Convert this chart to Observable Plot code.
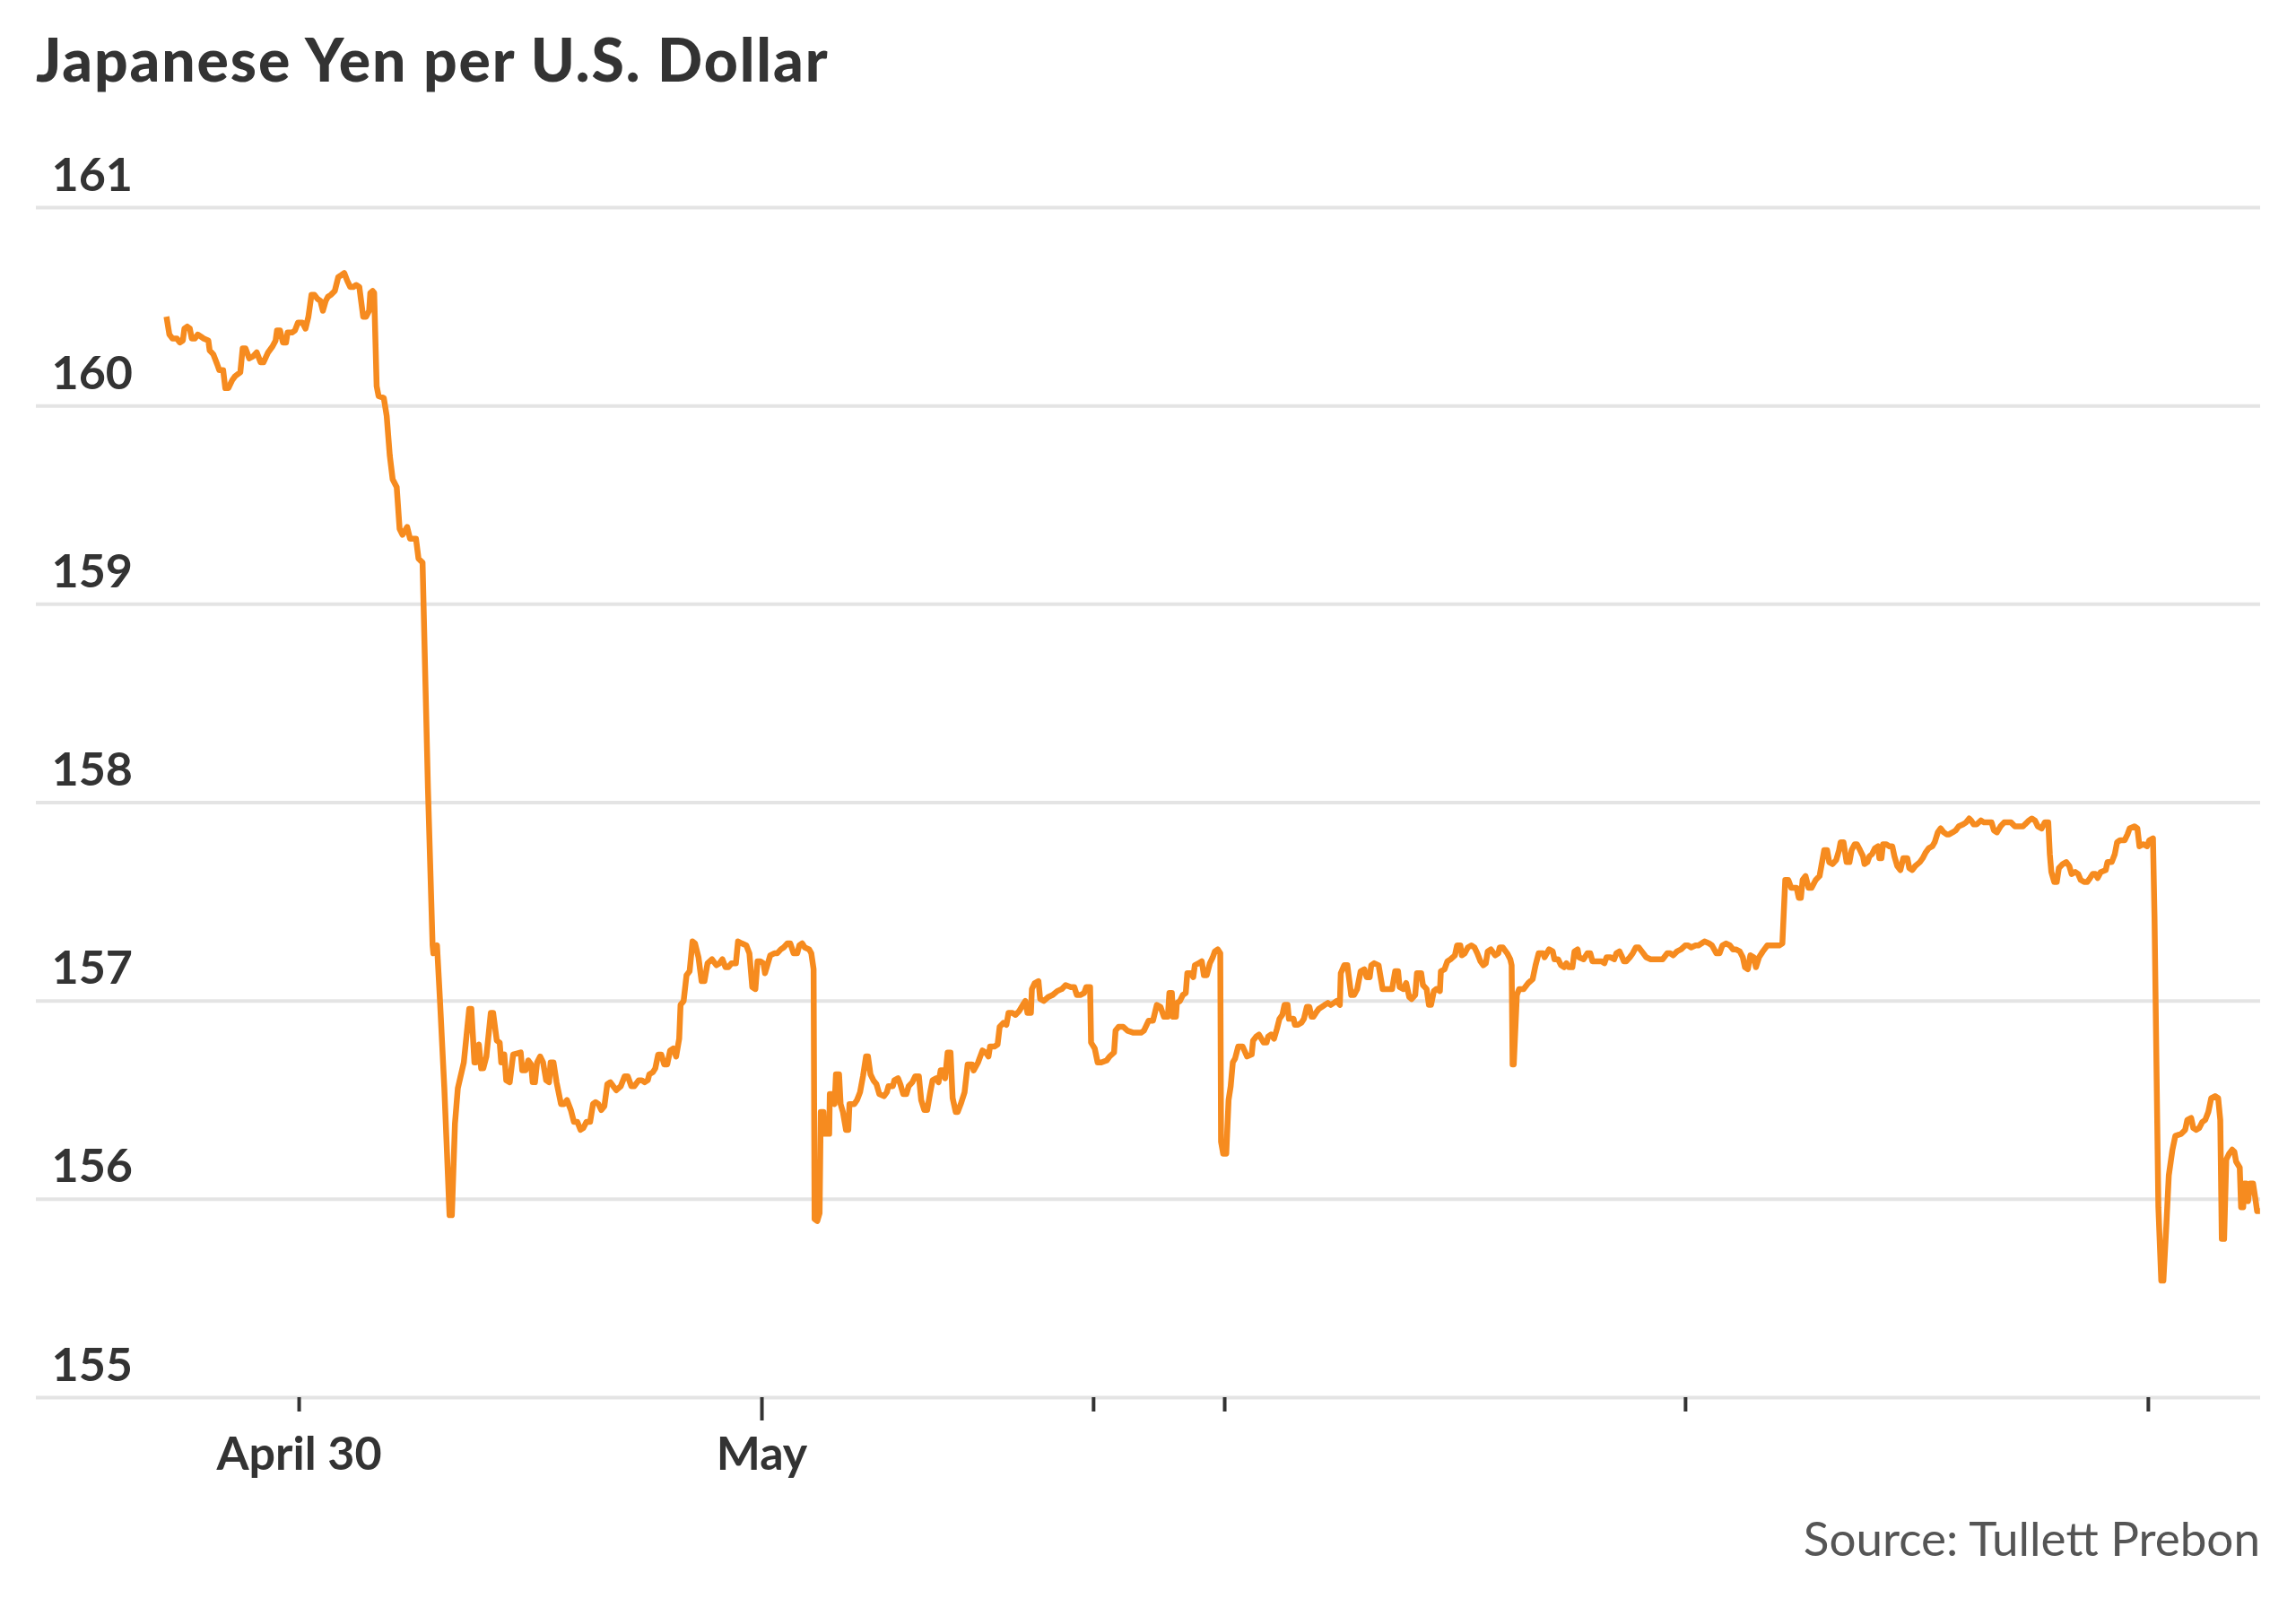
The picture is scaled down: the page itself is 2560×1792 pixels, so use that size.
<!DOCTYPE html>
<html>
<head>
<meta charset="utf-8">
<script src="https://cdn.jsdelivr.net/npm/d3@7"></script>
<script src="https://cdn.jsdelivr.net/npm/@observablehq/plot@0.6"></script>
<style>
  html, body { margin: 0; padding: 0; background: #ffffff; }
  #page { position: relative; width: 2560px; height: 1792px; overflow: hidden; background: #ffffff; font-family: Lato, "Noto Sans", sans-serif; }
  #title { position: absolute; left: 40px; top: 33px; font: 900 66px/66px Lato, sans-serif; letter-spacing: 1.9px; color: #333333; white-space: nowrap; }
  #chart { position: absolute; left: 0; top: 150px; }
  #source { position: absolute; right: 40px; top: 1688px; font: 400 53px/53px Lato, sans-serif; color: #555555; white-space: nowrap; }
</style>
</head>
<body>
<div id="page">
  <div id="title">Japanese Yen per U.S. Dollar</div>
  <div id="chart"></div>
  <div id="source">Source: Tullett Prebon</div>
</div>
<script>
// Hours since April 30, 00:00
const hours = [
  // segment 1
  -6.88,-6.73,-6.57,-6.34,-6.19,-6.03,-5.95,-5.80,-5.67,-5.57,
  -5.41,-5.26,-5.10,-4.95,-4.71,-4.64,-4.45,-4.25,-4.14,-3.94,
  -3.83,-3.67,-3.47,-3.32,-3.05,-2.93,-2.78,-2.59,-2.39,-2.20,
  -2.00,-1.85,-1.61,-1.38,-1.22,-1.15,-0.99,-0.84,-0.68,-0.60,
  -0.37,-0.22,-0.06,0.17,0.33,0.48,0.64,0.79,0.95,1.10,
  1.23,1.38,1.49,1.64,1.85,2.03,2.19,2.34,2.50,2.65,
  2.81,2.96,3.12,3.24,3.32,3.47,3.63,3.69,3.81,3.89,
  4.02,4.12,4.39,4.54,4.70,4.85,5.06,5.21,5.36,5.60,
  5.75,6.06,6.19,6.40,
  // segment 2
  6.68,6.92,6.96,7.15,7.30,7.53,7.80,7.92,8.08,8.23,
  8.54,8.82,8.93,9.09,9.16,9.32,9.44,9.55,9.71,9.94,
  10.06,10.25,10.40,10.48,10.64,10.74,10.92,11.10,11.49,11.57,
  11.75,11.88,12.03,12.11,12.23,12.34,12.50,12.65,12.81,12.96,
  13.04,13.19,13.35,13.58,13.74,13.89,14.09,14.25,14.43,14.59,
  14.74,14.90,15.09,15.24,15.37,15.52,15.67,15.83,15.98,16.14,
  16.29,16.45,16.68,16.88,17.04,17.23,17.38,17.61,17.77,17.92,
  18.08,18.16,18.34,18.47,18.62,18.78,18.93,19.09,19.24,19.40,
  19.55,19.71,19.78,19.94,20.09,20.25,20.40,20.53,20.71,20.87,
  21.02,21.18,21.41,21.64,21.80,21.95,22.11,22.26,22.42,22.65,
  22.76,22.96,23.19,23.35,23.50,
  // segment 3
  23.66,23.77,23.92,24.08,24.16,24.28,24.43,24.64,24.79,24.98,
  25.13,25.32,25.47,25.64,25.83,25.94,26.09,26.22,26.45,26.56,
  26.68,26.73,26.87,26.99,27.05,27.19,27.24,27.49,27.52,27.69,
  27.77,27.84,28.00,28.08,28.20,28.36,28.48,28.54,28.79,28.93,
  29.09,29.24,29.40,29.50,29.63,29.78,29.94,30.09,30.33,30.48,
  30.56,30.79,30.87,31.06,31.18,31.33,31.49,31.61,31.80,31.95,
  32.14,32.26,32.42,32.57,32.73,32.85,33.04,33.16,33.27,33.43,
  33.50,33.63,33.78,33.89,34.05,34.15,34.31,34.51,34.67,34.90,
  34.98,35.21,35.44,35.60,35.75,35.83,36.06,36.22,36.33,36.53,
  36.68,36.79,36.99,37.15,37.35,37.53,37.66,37.77,37.95,38.00,
  38.15,38.34,38.43,38.62,38.85,39.08,39.32,39.55,39.75,40.02,
  40.20,40.33,40.51,40.71,40.82,41.02,41.07,41.26,41.41,41.60,
  41.88,42.03,42.26,42.34,42.50,42.73,42.96,43.27,43.66,43.81,
  44.05,44.28,44.48,44.67,44.85,
  // segment 4
  45.05,45.13,45.26,45.32,45.47,45.52,45.68,45.83,45.98,46.06,
  46.22,46.37,46.45,46.65,46.81,46.92,47.07,47.23,47.38,47.49,
  47.64,47.77,47.81,47.92,48.08,48.20,48.31,48.42,48.54,48.70,
  48.93,49.16,49.40,49.47,49.63,49.78,50.02,50.17,50.25,50.40,
  50.56,50.71,50.84,50.99,51.10,51.26,51.33,51.57,51.64,51.80,
  51.98,52.11,52.26,52.39,52.50,52.60,52.73,52.88,53.04,53.19,
  53.35,53.50,53.66,53.81,53.97,54.02,54.20,54.36,54.56,54.71,
  54.87,55.05,55.24,55.36,55.52,55.60,55.75,55.98,56.19,56.45,
  56.68,56.84,56.99,57.07,57.26,57.41,57.57,57.69,57.88,57.97,
  58.19,58.28,58.47,58.59,58.70,58.85,58.98,59.16,59.21,59.40,
  59.55,59.71,59.94,60.05,60.22,60.30,60.45,60.61,60.79,60.95,
  61.10,61.26,61.41,61.54,61.64,61.80,62.03,62.19,62.26,62.42,
  62.65,62.81,62.88,62.93,62.99,63.15,63.27,63.50,63.74,63.97,
  64.12,64.28,64.51,64.59,64.82,65.01,65.10,65.29,65.44,65.60,
  65.72,65.83,66.03,66.14,66.30,
  // segment 5
  66.37,66.61,66.81,66.96,67.07,67.30,67.54,67.69,67.80,68.00,
  68.20,68.31,68.47,68.57,68.70,68.82,69.01,69.16,69.32,69.47,
  69.63,69.86,70.09,70.33,70.56,70.71,70.95,71.10,71.26,71.46,
  71.67,71.88,72.03,72.19,72.42,72.57,72.73,72.88,73.12,73.27,
  73.50,73.66,73.81,74.00,74.20,74.36,74.51,74.71,74.87,74.98,
  75.13,75.26,75.44,75.55,75.71,75.91,76.14,76.30,76.53,76.76,
  76.92,77.07,77.23,77.38,77.66,77.77,77.88,77.97,78.12,78.28,
  78.43,78.54,78.65,78.85,79.09,79.24,79.35,79.52,79.71,79.86,
  79.94,80.09,80.25,80.40,80.51,80.67,80.79,80.95,81.10,81.18,
  81.33,81.44,81.57,81.72,81.88,81.95,82.06,82.14,82.31,82.47,
  82.62,82.73,82.88,83.04,83.19,83.40,83.50,83.66,83.81,84.05,
  84.20,84.36,84.51,84.70,84.82,84.98,85.13,85.29,85.44,85.57,
  85.75,85.91,86.06,86.29,86.45,86.61,86.71,86.84,
  // segment 6
  86.99,87.22,87.38,87.58,87.77,87.89,88.05,88.23,88.42,88.62,
  88.78,88.98,89.16,89.40,89.50,89.71,89.86,90.02,90.17,90.37,
  90.53,90.71,90.79,90.87,91.02,91.15,91.26,91.46,91.64,91.80,
  91.92,92.11,92.26,92.39,92.57,92.73,92.88,93.01,93.16,93.27,
  93.43,93.69,93.78,94.00,94.16,94.28,94.43,94.67,94.82,94.93,
  95.18,95.33,95.44,95.64,95.83,95.95,96.14,96.22,96.33,96.42,
  96.57,96.68,96.84,96.96,97.15,97.30,97.61,97.81,97.92,98.12,
  98.23,98.39,98.54,98.70,98.85,99.01,99.16,99.36,99.52,99.63,
  99.71,99.83,99.94,100.09,100.25,100.36,100.45,100.64,100.71,100.82,
  100.87,100.98,101.07,101.18,101.33,101.44,101.54,101.69
];

// Yen per U.S. dollar at each point
const yen = [
  // segment 1
  160.45,160.36,160.34,160.34,160.32,160.33,160.39,160.40,160.39,160.34,
  160.34,160.36,160.35,160.34,160.33,160.28,160.26,160.21,160.18,160.18,
  160.09,160.09,160.13,160.15,160.17,160.29,160.29,160.24,160.25,160.27,
  160.22,160.22,160.27,160.30,160.33,160.38,160.38,160.32,160.32,160.37,
  160.37,160.38,160.42,160.42,160.39,160.45,160.56,160.56,160.54,160.53,
  160.48,160.53,160.55,160.56,160.58,160.65,160.66,160.67,160.63,160.60,
  160.60,160.61,160.60,160.51,160.45,160.45,160.48,160.57,160.58,160.57,
  160.10,160.05,160.04,159.95,159.75,159.63,159.59,159.38,159.35,159.39,
  159.33,159.33,159.23,159.21,
  // segment 2
  158.07,157.28,157.24,157.28,157.01,156.56,155.92,155.92,156.38,156.56,
  156.69,156.96,156.96,156.69,156.69,156.78,156.66,156.66,156.72,156.94,
  156.94,156.80,156.79,156.69,156.73,156.60,156.59,156.73,156.74,156.65,
  156.65,156.70,156.68,156.59,156.59,156.69,156.72,156.69,156.60,156.59,
  156.69,156.69,156.59,156.48,156.48,156.50,156.45,156.39,156.39,156.35,
  156.36,156.39,156.39,156.48,156.49,156.48,156.45,156.47,156.58,156.59,
  156.57,156.55,156.57,156.62,156.62,156.57,156.57,156.60,156.60,156.59,
  156.60,156.63,156.64,156.66,156.73,156.73,156.68,156.68,156.75,156.76,
  156.72,156.81,156.98,157.00,157.13,157.15,157.30,157.29,157.22,157.10,
  157.10,157.19,157.21,157.18,157.19,157.21,157.17,157.17,157.19,157.19,
  157.30,157.29,157.28,157.24,157.07,
  // segment 3
  157.06,157.20,157.20,157.19,157.14,157.18,157.23,157.24,157.24,157.26,
  157.27,157.29,157.29,157.24,157.24,157.28,157.29,157.27,157.26,157.24,
  157.16,155.90,155.89,155.93,156.44,156.44,156.33,156.33,156.53,156.53,
  156.48,156.63,156.63,156.48,156.44,156.35,156.35,156.48,156.48,156.50,
  156.54,156.62,156.72,156.72,156.63,156.60,156.58,156.53,156.52,156.54,
  156.57,156.57,156.60,156.61,156.58,156.53,156.53,156.57,156.59,156.62,
  156.62,156.50,156.45,156.45,156.54,156.60,156.61,156.59,156.65,156.65,
  156.61,156.74,156.74,156.51,156.44,156.44,156.48,156.54,156.68,156.68,
  156.65,156.69,156.75,156.74,156.72,156.77,156.77,156.78,156.87,156.89,
  156.88,156.94,156.94,156.93,156.95,156.98,157.00,156.94,156.94,157.06,
  157.09,157.10,157.01,157.00,157.02,157.03,157.05,157.06,157.08,157.07,
  157.07,157.03,157.03,157.04,157.07,157.07,156.79,156.76,156.69,156.69,
  156.70,156.72,156.74,156.85,156.87,156.87,156.85,156.84,156.84,156.85,
  156.90,156.90,156.98,156.97,156.92,
  // segment 4
  156.92,157.04,157.04,156.92,156.92,156.99,157.00,157.03,157.04,157.14,
  157.14,157.12,157.18,157.19,157.20,157.13,157.13,157.19,157.22,157.25,
  157.26,157.24,156.29,156.23,156.23,156.50,156.57,156.69,156.71,156.77,
  156.77,156.72,156.73,156.80,156.82,156.83,156.79,156.79,156.82,156.83,
  156.81,156.86,156.91,156.93,156.98,156.98,156.91,156.91,156.88,156.88,
  156.89,156.91,156.97,156.97,156.92,156.92,156.94,156.96,156.97,156.98,
  156.99,156.98,156.99,157.00,156.98,157.14,157.18,157.18,157.03,157.03,
  157.06,157.15,157.16,157.12,157.12,157.18,157.19,157.18,157.06,157.06,
  157.06,157.15,157.15,157.07,157.06,157.09,157.02,157.01,157.03,157.14,
  157.14,157.08,157.06,156.98,156.98,157.05,157.06,157.05,157.15,157.16,
  157.20,157.21,157.23,157.28,157.28,157.23,157.24,157.27,157.28,157.27,
  157.24,157.20,157.18,157.19,157.25,157.26,157.23,157.24,157.27,157.27,
  157.24,157.21,157.18,156.68,156.68,157.03,157.06,157.06,157.09,157.11,
  157.18,157.24,157.24,157.22,157.26,157.25,157.21,157.21,157.18,157.17,
  157.19,157.17,157.17,157.25,157.26,
  // segment 5
  157.22,157.21,157.24,157.24,157.20,157.20,157.20,157.19,157.22,157.22,
  157.21,157.24,157.25,157.23,157.20,157.20,157.22,157.24,157.27,157.27,
  157.25,157.22,157.21,157.21,157.21,157.21,157.24,157.24,157.23,157.25,
  157.26,157.28,157.28,157.27,157.28,157.28,157.29,157.30,157.29,157.28,
  157.24,157.24,157.28,157.29,157.28,157.26,157.26,157.25,157.22,157.17,
  157.16,157.23,157.22,157.17,157.22,157.25,157.28,157.28,157.28,157.28,
  157.29,157.61,157.61,157.57,157.57,157.52,157.52,157.61,157.63,157.57,
  157.57,157.59,157.61,157.63,157.76,157.76,157.70,157.69,157.71,157.76,
  157.80,157.80,157.70,157.70,157.76,157.79,157.79,157.76,157.73,157.69,
  157.70,157.73,157.74,157.77,157.78,157.72,157.72,157.79,157.79,157.78,
  157.78,157.73,157.68,157.66,157.72,157.72,157.67,157.66,157.68,157.70,
  157.72,157.75,157.77,157.78,157.80,157.85,157.87,157.85,157.84,157.84,
  157.85,157.86,157.88,157.89,157.90,157.92,157.91,157.89,
  // segment 6
  157.89,157.91,157.90,157.90,157.90,157.86,157.85,157.88,157.90,157.90,
  157.90,157.88,157.88,157.88,157.89,157.91,157.92,157.91,157.88,157.87,
  157.90,157.90,157.74,157.65,157.60,157.60,157.67,157.69,157.70,157.68,
  157.64,157.65,157.64,157.61,157.60,157.60,157.62,157.64,157.64,157.62,
  157.65,157.66,157.70,157.70,157.74,157.80,157.81,157.81,157.84,157.87,
  157.88,157.87,157.78,157.79,157.78,157.81,157.82,157.42,156.61,155.96,
  155.59,155.59,155.88,156.12,156.25,156.32,156.33,156.35,156.40,156.41,
  156.36,156.35,156.36,156.39,156.40,156.44,156.51,156.52,156.51,156.40,
  155.80,155.80,156.20,156.23,156.25,156.24,156.19,156.16,155.96,155.96,
  156.08,156.08,155.99,156.08,156.08,156.01,155.94,155.94
];

const yTicks = [155, 156, 157, 158, 159, 160, 161];
const xTicks = [0, 24, 41.2, 48, 71.9, 95.9];
const xTickLabels = ["April 30", "May", "", "", "", ""];
const monthTicks = [24];
const xDomain = [-13.63, 101.72];

if (hours.length !== yen.length) console.error("length mismatch", hours.length, yen.length);
const rows = hours.map((h, i) => ({hour: h, yen: yen[i]}));

const labelFor = t => xTickLabels[xTicks.indexOf(t)];
const axisText = {fontSize: 52, fontWeight: 700, fontFamily: "Lato, sans-serif", color: "#333333", label: null};

const chart = Plot.plot({
  width: 2560,
  height: 1520,
  marginTop: 81,
  marginBottom: 112,
  marginLeft: 40,
  marginRight: 40,
  style: {background: "transparent", fontFamily: "Lato, sans-serif", overflow: "visible"},
  x: {type: "linear", domain: xDomain},
  y: {type: "linear", domain: [155, 161]},
  marks: [
    Plot.ruleY(yTicks, {stroke: "#e4e4e4", strokeWidth: 4}),
    Plot.axisY(yTicks, {
      ...axisText, anchor: "left", tickSize: 0, tickPadding: 0,
      textAnchor: "start", lineAnchor: "bottom", dx: 17, dy: -19,
      tickFormat: d => String(d)
    }),
    Plot.axisX(xTicks.filter(t => !monthTicks.includes(t)), {
      ...axisText, anchor: "bottom", tickSize: 16, tickPadding: 28, strokeWidth: 4,
      tickFormat: labelFor
    }),
    Plot.axisX(monthTicks, {
      ...axisText, anchor: "bottom", tickSize: 26, tickPadding: 18, strokeWidth: 4,
      tickFormat: labelFor
    }),
    Plot.line(rows, {x: "hour", y: "yen", stroke: "#f68b1f", strokeWidth: 6.5, strokeLinejoin: "round", strokeLinecap: "butt"})
  ]
});
document.getElementById("chart").appendChild(chart);
</script>
</body>
</html>
